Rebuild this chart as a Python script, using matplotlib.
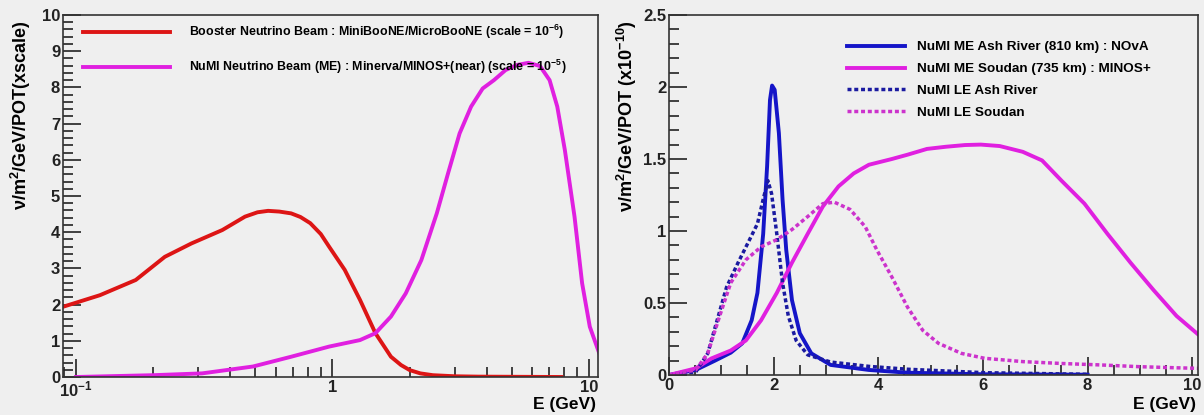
import matplotlib
matplotlib.use("Agg")
import matplotlib.pyplot as plt
from matplotlib.ticker import FixedLocator, FixedFormatter, MultipleLocator, LogLocator, NullFormatter

# Left panel: near-detector fluxes (log energy axis)
bnb_e = [0.089, 0.124, 0.171, 0.222, 0.282, 0.372, 0.456, 0.51, 0.561, 0.62, 0.69, 0.75,
         0.819, 0.9, 0.97, 1.116, 1.28, 1.47, 1.69, 1.85, 2.0, 2.2, 2.46, 3.0, 3.71, 7.8]
bnb_flux = [1.94, 2.26, 2.68, 3.32, 3.69, 4.06, 4.43, 4.55, 4.59, 4.57, 4.52, 4.42,
            4.25, 3.95, 3.6, 2.96, 2.13, 1.21, 0.56, 0.33, 0.19, 0.1, 0.05, 0.02, 0.01, 0.0]

numi_near_e = [0.1, 0.2, 0.31, 0.49, 0.69, 0.97, 1.28, 1.47, 1.69, 1.93, 2.22, 2.55,
               2.82, 3.13, 3.47, 3.85, 4.26, 4.73, 5.24, 5.81, 6.44, 7.02, 7.52,
               8.05, 8.78, 9.4, 10.07, 10.97]
numi_near_flux = [0.0, 0.05, 0.1, 0.29, 0.56, 0.84, 1.02, 1.21, 1.67, 2.31, 3.23, 4.52,
                  5.62, 6.73, 7.47, 7.97, 8.2, 8.48, 8.62, 8.68, 8.59, 8.2, 7.47,
                  6.27, 4.43, 2.59, 1.39, 0.65]

# Right panel: far-detector fluxes (linear energy axis)
me_ash_e = [0.0, 0.51, 0.88, 1.18, 1.4, 1.58, 1.69, 1.8, 1.875, 1.93, 1.97, 2.02, 2.1,
            2.17, 2.24, 2.35, 2.5, 2.72, 3.09, 3.82, 4.56, 6.03, 8.0]
me_ash_flux = [0.0, 0.035, 0.10, 0.155, 0.22, 0.38, 0.57, 0.98, 1.45, 1.91, 2.01, 1.98, 1.68,
               1.22, 0.87, 0.52, 0.29, 0.15, 0.07, 0.035, 0.016, 0.005, 0.002]

me_soudan_e = [0.0, 0.51, 0.81, 1.18, 1.47, 1.76, 2.06, 2.35, 2.65, 2.94, 3.24, 3.53,
               3.82, 4.26, 4.56, 4.93, 5.29, 5.66, 5.96, 6.32, 6.76, 7.13, 7.5, 7.94,
               8.38, 8.82, 9.26, 9.7, 10.15]
me_soudan_flux = [0.0, 0.046, 0.115, 0.17, 0.24, 0.38, 0.57, 0.78, 0.98, 1.17, 1.31, 1.40,
                  1.46, 1.50, 1.53, 1.57, 1.585, 1.597, 1.60, 1.59, 1.55, 1.49, 1.35, 1.19,
                  0.98, 0.78, 0.59, 0.41, 0.27]

le_ash_e = [0.0, 0.51, 0.74, 0.92, 1.1, 1.32, 1.54, 1.69, 1.8, 1.89, 1.96, 2.06, 2.17,
            2.28, 2.43, 2.65, 3.09, 3.82, 4.56, 6.03, 8.0]
le_ash_flux = [0.0, 0.02, 0.15, 0.38, 0.61, 0.78, 0.94, 1.05, 1.22, 1.35, 1.26, 0.98, 0.64,
               0.41, 0.24, 0.14, 0.09, 0.06, 0.04, 0.016, 0.005]

le_soudan_e = [0.0, 0.51, 0.74, 0.96, 1.18, 1.47, 1.76, 2.06, 2.35, 2.65, 2.94, 3.16, 3.46,
               3.75, 3.97, 4.26, 4.56, 4.85, 5.15, 5.59, 6.03, 6.76, 7.5, 8.24, 8.97, 9.7, 10.15]
le_soudan_flux = [0.0, 0.035, 0.15, 0.40, 0.64, 0.80, 0.89, 0.94, 1.01, 1.10, 1.19, 1.20, 1.15,
                  1.03, 0.87, 0.68, 0.47, 0.31, 0.22, 0.15, 0.116, 0.093, 0.08, 0.07, 0.058, 0.05, 0.046]

bg = "#efefef"
plt.rcParams["font.family"] = ["Liberation Sans", "DejaVu Sans"]
plt.rcParams["font.weight"] = "bold"
plt.rcParams["mathtext.fontset"] = "custom"
plt.rcParams["mathtext.rm"] = "Liberation Sans:bold"
plt.rcParams["mathtext.it"] = "Liberation Sans:bold"
plt.rcParams["mathtext.bf"] = "Liberation Sans:bold"

W, H = 1204, 415
fig = plt.figure(figsize=(W / 100, H / 100), dpi=100, facecolor=bg)


def px_axes(x0, y0, x1, y1):
    # pixel box (top-left origin) -> figure fraction
    return fig.add_axes([x0 / W, 1 - y1 / H, (x1 - x0) / W, (y1 - y0) / H], facecolor=bg)


def style(ax):
    for s in ax.spines.values():
        s.set_color("#333333")
        s.set_linewidth(1.2)
    ax.tick_params(which="both", direction="in", top=False, right=False, colors="#222222",
                   labelsize=12, width=1.2)
    ax.tick_params(which="major", length=13, pad=2)
    ax.tick_params(which="minor", length=7)


def labels(ax, ytext, ylab_x, xlab_y):
    ax.set_ylabel(ytext, fontsize=13, fontweight="bold")
    ax.yaxis.set_label_coords(ylab_x, 0.986)
    ax.yaxis.label.set_ha("right")
    ax.set_xlabel("E (GeV)", fontsize=12.5, fontweight="bold")
    ax.xaxis.set_label_coords(0.997, xlab_y)
    ax.xaxis.label.set_ha("right")
    ax.xaxis.label.set_va("center")


red = "#dd1515"
mag = "#e020e0"
blue = "#1515c8"
dot_blue = "#1a1aa0"
dot_mag = "#cc33cc"
dots = (0, (1.15, 0.8))

# ---- left panel
ax1 = px_axes(63, 15, 598, 377)
ax1.plot(bnb_e, bnb_flux, color=red, lw=2.8,
         label="Booster Neutrino Beam : MiniBooNE/MicroBooNE (scale = 10$^{-6}$)")
ax1.plot(numi_near_e, numi_near_flux, color=mag, lw=2.8,
         label="NuMI Neutrino Beam (ME) : Minerva/MINOS+(near) (scale = 10$^{-5}$)")
ax1.set_xscale("log")
ax1.set_xlim(0.089, 10.84)
ax1.set_ylim(0, 10)
ax1.xaxis.set_major_locator(FixedLocator([0.1, 1, 10]))
ax1.xaxis.set_major_formatter(FixedFormatter(["10$^{-1}$", "1", "10"]))
ax1.xaxis.set_minor_locator(LogLocator(base=10, subs=range(2, 10)))
ax1.xaxis.set_minor_formatter(NullFormatter())
ax1.yaxis.set_major_locator(MultipleLocator(1))
ax1.yaxis.set_minor_locator(MultipleLocator(0.2))
style(ax1)
labels(ax1, "ν/m$^{2}$/GeV/POT(xscale)", -0.056, -0.077)
ax1.legend(loc="upper left", bbox_to_anchor=(83 / W, 1 - 23 / H), bbox_transform=fig.transFigure,
           frameon=False, fontsize=8.9, borderpad=0, borderaxespad=0, labelspacing=1.33,
           handlelength=7.0, handletextpad=1.6)

# ---- right panel
ax2 = px_axes(669, 15, 1198, 375)
ax2.plot(me_ash_e, me_ash_flux, color=blue, lw=2.8, label="NuMI ME Ash River (810 km) : NOvA")
ax2.plot(me_soudan_e, me_soudan_flux, color=mag, lw=2.8, label="NuMI ME Soudan (735 km) : MINOS+")
ax2.plot(le_ash_e, le_ash_flux, color=dot_blue, lw=2.5, ls=dots, label="NuMI LE Ash River")
ax2.plot(le_soudan_e, le_soudan_flux, color=dot_mag, lw=2.5, ls=dots, label="NuMI LE Soudan")
ax2.set_xlim(0, 10.11)
ax2.set_ylim(0, 2.5)
ax2.xaxis.set_major_locator(MultipleLocator(2))
ax2.xaxis.set_minor_locator(MultipleLocator(0.5))
ax2.yaxis.set_major_locator(FixedLocator([0, 0.5, 1, 1.5, 2, 2.5]))
ax2.yaxis.set_major_formatter(FixedFormatter(["0", "0.5", "1", "1.5", "2", "2.5"]))
ax2.yaxis.set_minor_locator(MultipleLocator(0.1))
style(ax2)
labels(ax2, "ν/m$^{2}$/GeV/POT (x10$^{-10}$)", -0.057, -0.083)
ax2.legend(loc="upper left", bbox_to_anchor=(847 / W, 1 - 41 / H), bbox_transform=fig.transFigure,
           frameon=False, fontsize=9.7, borderpad=0, borderaxespad=0, labelspacing=0.7,
           handlelength=4.3, handletextpad=0.9)

fig.savefig("out.png", dpi=100, facecolor=bg)
